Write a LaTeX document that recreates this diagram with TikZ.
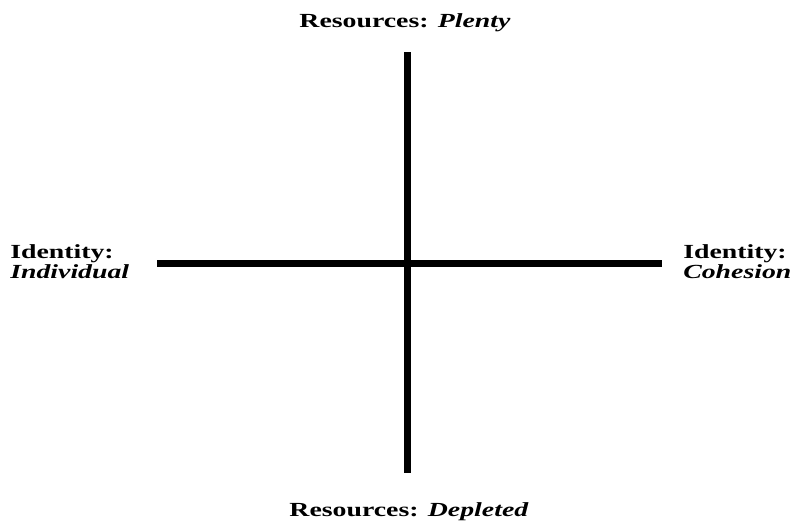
\documentclass[tikz,border=0pt]{standalone}
\usepackage{fontspec}
\setmainfont{Liberation Serif}[FakeStretch=1.39]
\usetikzlibrary{positioning}

\begin{document}
\begin{tikzpicture}[
		x=0.75pt, y=-0.75pt,
		% Style for the two axes
		axis line/.style={line width=5.3pt, line cap=butt, color=black},
		% Style for the pole labels
		pole label/.style={font=\fontsize{15pt}{13.5pt}\selectfont\bfseries, inner sep=0pt, align=left}
		]
		
		\useasboundingbox (0,0) rectangle (796,521);
		
		% --- 1. Axis end points ---
		\coordinate (axN) at (407.5, 52);
		\coordinate (axS) at (407.5, 473);
		\coordinate (axW) at (157, 263.3);
		\coordinate (axE) at (662, 263.3);
		
		% --- 2. The cross ---
		\draw[axis line] (axN) -- (axS);
		\draw[axis line] (axW) -- (axE);
		
		% --- 3. Labels at the four poles ---
		\node[pole label, anchor=base] (resPlenty) at (405, 27.7) {Resources: \textit{Plenty}};
		\node[pole label, anchor=base] (resDepleted) at (409, 516) {Resources: \textit{Depleted}};
		\node[pole label, anchor=north west] (idIndividual) at (10, 244.5) {Identity:\\\textit{Individual}};
		\node[pole label, anchor=north west] (idCohesion) at (683, 244.5) {Identity:\\\textit{Cohesion}};
		
	\end{tikzpicture}
\end{document}
